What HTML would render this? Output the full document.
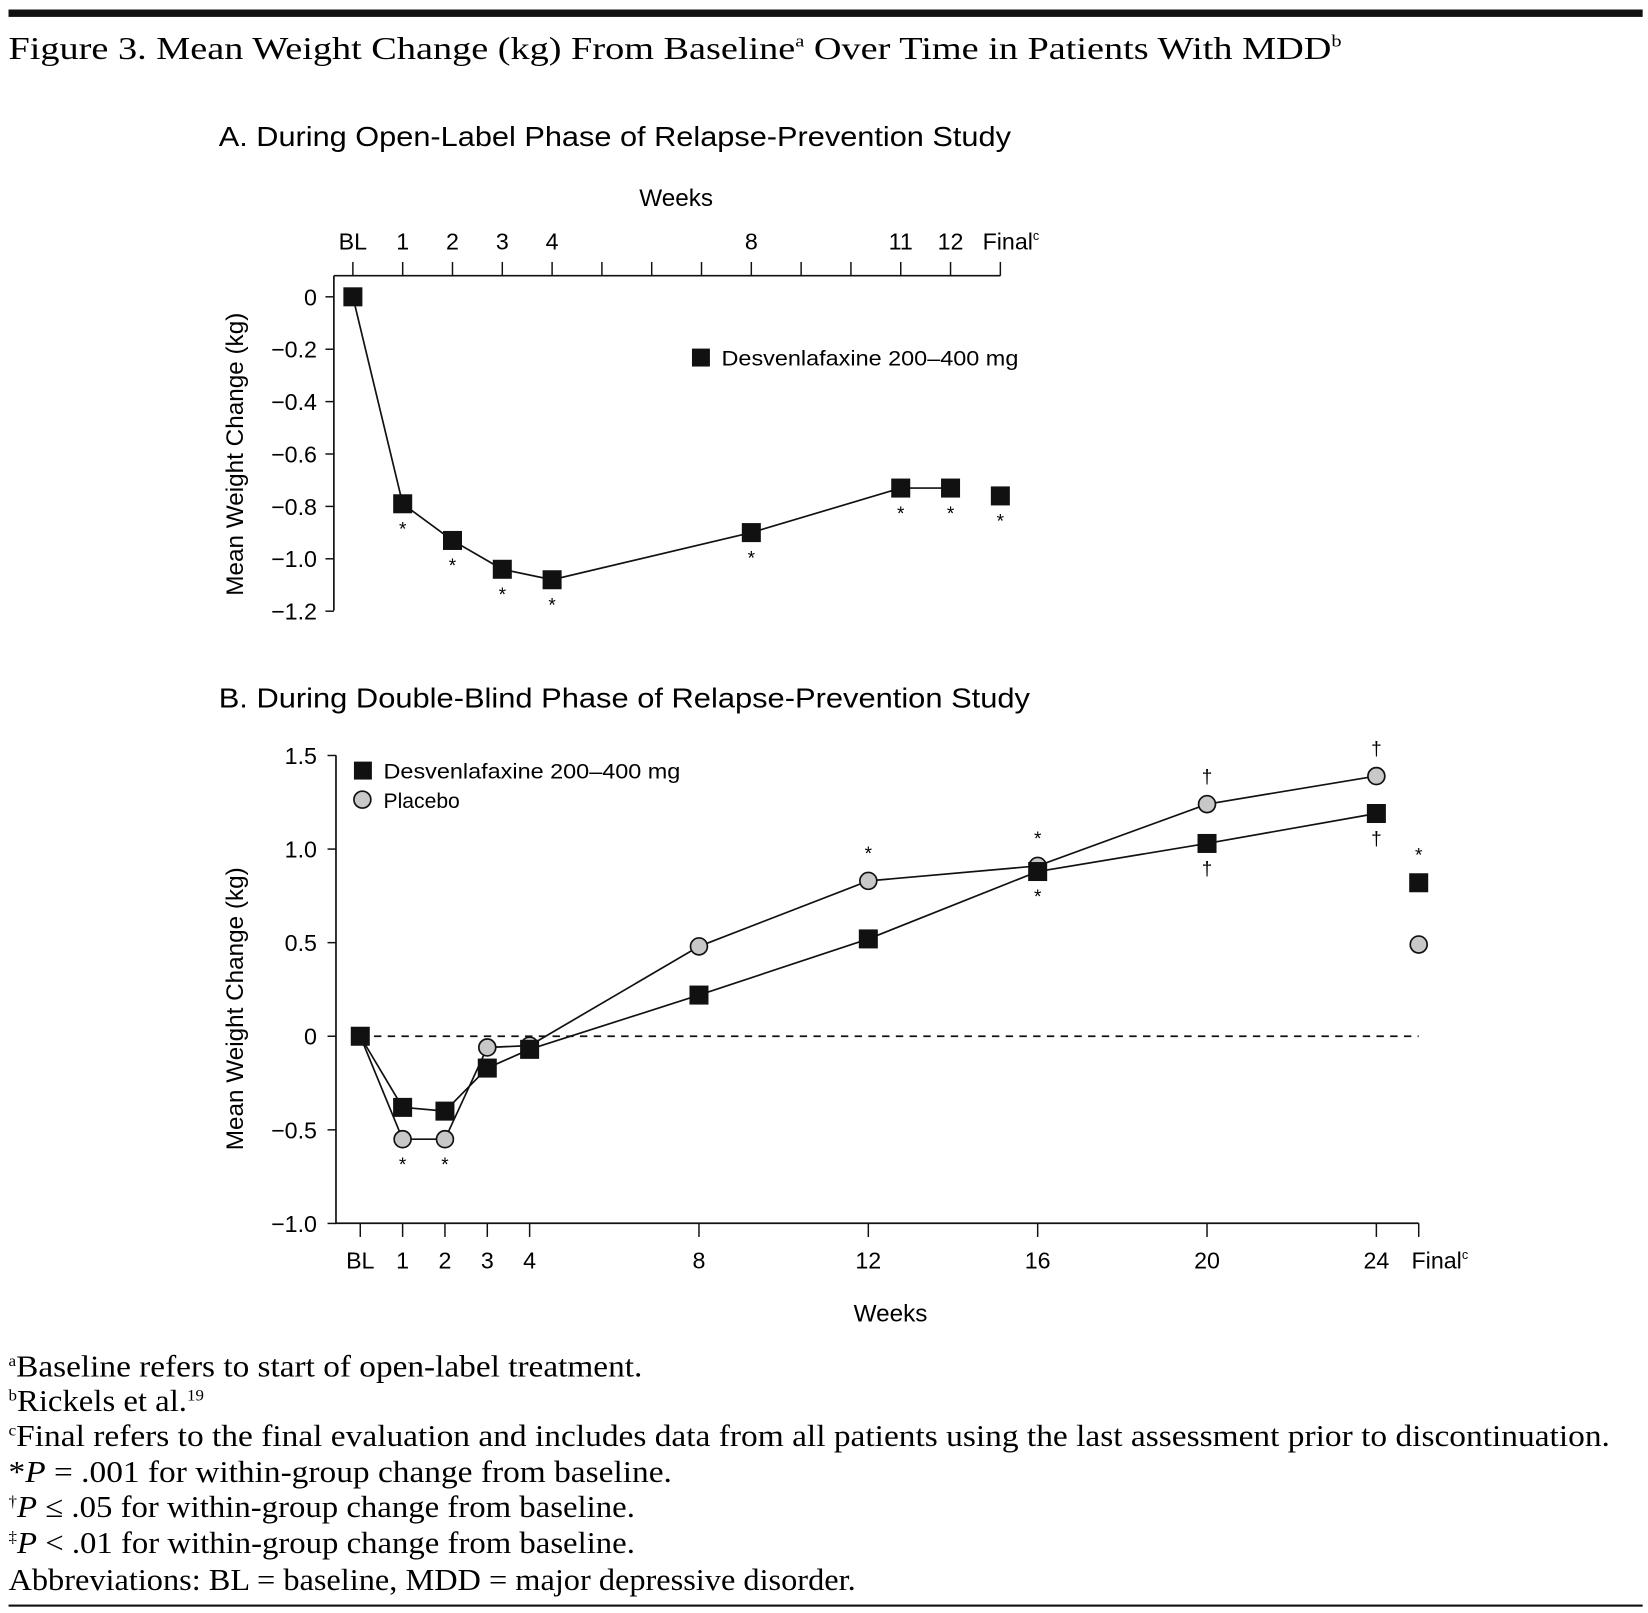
<!DOCTYPE html>
<html><head><meta charset="utf-8"><style>
html,body{margin:0;padding:0;background:#fff}
svg{display:block}
.serif{font-family:"Liberation Serif",serif}
.sans{font-family:"Liberation Sans",sans-serif}
</style></head><body>
<svg id="fig" width="1648" height="1613" viewBox="0 0 1560 1527" xmlns="http://www.w3.org/2000/svg">
<rect x="8" y="9" width="1547" height="7" fill="#111"/>
<text class="serif" x="8" y="56" font-size="30" textLength="1262" lengthAdjust="spacingAndGlyphs">Figure 3. Mean Weight Change (kg) From Baseline<tspan font-size="16" dy="-12">a</tspan><tspan dy="12"> Over Time in Patients With MDD</tspan><tspan font-size="16" dy="-12">b</tspan></text>
<text class="sans" x="207" y="138" font-size="26" textLength="750" lengthAdjust="spacingAndGlyphs">A. During Open-Label Phase of Relapse-Prevention Study</text>
<text class="sans" x="640" y="195" font-size="23" text-anchor="middle">Weeks</text>
<text class="sans" x="207" y="670" font-size="26" textLength="768" lengthAdjust="spacingAndGlyphs">B. During Double-Blind Phase of Relapse-Prevention Study</text>
<text class="sans" x="843" y="1251" font-size="23" text-anchor="middle">Weeks</text>
<text class="sans" transform="translate(230,430) rotate(-90)" font-size="23" text-anchor="middle">Mean Weight Change (kg)</text>
<text class="sans" transform="translate(230,955) rotate(-90)" font-size="23" text-anchor="middle">Mean Weight Change (kg)</text>
<g id="gA"></g>
<g id="gB"></g>
<g class="serif" font-size="29">
<text x="8" y="1303" textLength="600" lengthAdjust="spacingAndGlyphs"><tspan font-size="15" dy="-10">a</tspan><tspan dy="10">Baseline refers to start of open-label treatment.</tspan></text>
<text x="8" y="1336" textLength="185" lengthAdjust="spacingAndGlyphs"><tspan font-size="15" dy="-10">b</tspan><tspan dy="10">Rickels et al.</tspan><tspan font-size="15" dy="-10">19</tspan></text>
<text x="8" y="1369" textLength="1516" lengthAdjust="spacingAndGlyphs"><tspan font-size="15" dy="-10">c</tspan><tspan dy="10">Final refers to the final evaluation and includes data from all patients using the last assessment prior to discontinuation.</tspan></text>
<text x="8" y="1403" textLength="628" lengthAdjust="spacingAndGlyphs">*<tspan font-style="italic">P</tspan> = .001 for within-group change from baseline.</text>
<text x="8" y="1436" textLength="593" lengthAdjust="spacingAndGlyphs"><tspan font-size="15" dy="-10">†</tspan><tspan dy="10" font-style="italic">P</tspan> ≤ .05 for within-group change from baseline.</text>
<text x="8" y="1470" textLength="593" lengthAdjust="spacingAndGlyphs"><tspan font-size="15" dy="-10">‡</tspan><tspan dy="10" font-style="italic">P</tspan> &lt; .01 for within-group change from baseline.</text>
<text x="8" y="1505" textLength="802" lengthAdjust="spacingAndGlyphs">Abbreviations: BL = baseline, MDD = major depressive disorder.</text>
</g>
<rect x="8" y="1519" width="1547" height="2" fill="#111"/>
</svg>
<script>
// Panel A data
const aWeeks = [0,1,2,3,4,8,11,12,13];
const aLabels = ["BL","1","2","3","4","8","11","12","Final"];
const aValues = [0,-0.79,-0.93,-1.04,-1.08,-0.90,-0.73,-0.73,-0.76];
const aStars = ["","*","*","*","*","*","*","*","*"];
const aYTicks = [0,-0.2,-0.4,-0.6,-0.8,-1.0,-1.2];
// Panel B data
const bWeeks = [0,1,2,3,4,8,12,16,20,24,25];
const bLabels = ["BL","1","2","3","4","8","12","16","20","24","Final"];
const bDesv = [0,-0.38,-0.40,-0.17,-0.07,0.22,0.52,0.88,1.03,1.19,0.82];
const bPlac = [0,-0.55,-0.55,-0.06,-0.05,0.48,0.83,0.91,1.24,1.39,0.49];
const bDesvNote = ["","","","","","","","*","†","†","*"];
const bPlacNote = ["","*","*","","","","*","*","†","†",""];
const bYTicks = [1.5,1.0,0.5,0,-0.5,-1.0];

const NS="http://www.w3.org/2000/svg";
function mk(p,t,a,txt){const e=document.createElementNS(NS,t);for(const k in a)e.setAttribute(k,a[k]);if(txt!==undefined)e.textContent=txt;p.appendChild(e);return e;}
const fmt=v=>v===0?"0":(v<0?"\u2212":"")+Math.abs(v).toFixed(1);

// Panel A
const gA=document.getElementById('gA');
const axA=w=>334+w*47.15;
const ayA=v=>281-v/0.2*49.6;
let e=mk(gA,'path',{d:'M316,261H947M316,261V578',stroke:'#111','stroke-width':1.6,fill:'none'});


for(let w=0;w<=13;w++){e=mk(gA,'line',{x1:axA(w),x2:axA(w),y1:261,y2:248,stroke:'#111','stroke-width':1.4});

}
aWeeks.forEach((w,i)=>{e=mk(gA,'text',{x:axA(w)+(i==8?10:0),y:236,'font-size':22,'text-anchor':'middle','class':'sans'},aLabels[i]);


if(i==8){mk(e,'tspan',{'font-size':12,dy:-9},'c');}});
aYTicks.forEach(v=>{e=mk(gA,'line',{x1:308,x2:316,y1:ayA(v),y2:ayA(v),stroke:'#111','stroke-width':1.4});


e=mk(gA,'text',{x:300,y:ayA(v)+8,'font-size':22,'text-anchor':'end','class':'sans'},fmt(v));

});
let d=aWeeks.slice(0,8).map((w,i)=>(i?'L':'M')+axA(w)+','+ayA(aValues[i])).join('');
e=mk(gA,'path',{d:d,stroke:'#111','stroke-width':1.6,fill:'none'});


aWeeks.forEach((w,i)=>{e=mk(gA,'rect',{x:axA(w)-9,y:ayA(aValues[i])-9,width:18,height:18,fill:'#111'});


if(aStars[i]){e=mk(gA,'text',{x:axA(w),y:ayA(aValues[i])+30,'font-size':18,'text-anchor':'middle','class':'sans'},aStars[i]);

}});
e=mk(gA,'rect',{x:655,y:330,width:17,height:17,fill:'#111'});


e=mk(gA,'text',{x:683,y:346,'font-size':20,'class':'sans',textLength:281,lengthAdjust:'spacingAndGlyphs'},'Desvenlafaxine 200–400 mg');



// Panel B
const gB=document.getElementById('gB');
const bx=w=>341+w*40.08;
const by=v=>981-v/0.5*88.6;
e=mk(gB,'path',{d:'M318,715V1158H1343',stroke:'#111','stroke-width':1.6,fill:'none'});


e=mk(gB,'line',{x1:341,x2:1343,y1:by(0),y2:by(0),stroke:'#111','stroke-width':1.6,'stroke-dasharray':'7,6'});


bYTicks.forEach(v=>{e=mk(gB,'line',{x1:310,x2:318,y1:by(v),y2:by(v),stroke:'#111','stroke-width':1.4});


e=mk(gB,'text',{x:300,y:by(v)+8,'font-size':22,'text-anchor':'end','class':'sans'},fmt(v));

});
bWeeks.forEach((w,i)=>{e=mk(gB,'line',{x1:bx(w),x2:bx(w),y1:1158,y2:1171,stroke:'#111','stroke-width':1.4});


e=mk(gB,'text',{x:bx(w)+(i==10?20:0),y:1201,'font-size':22,'text-anchor':'middle','class':'sans'},bLabels[i]);


if(i==10){mk(e,'tspan',{'font-size':12,dy:-9},'c');}});
const line=(vals,name)=>{const dd=bWeeks.slice(0,10).map((w,i)=>(i?'L':'M')+bx(w)+','+by(vals[i])).join('');
const p=mk(gB,'path',{d:dd,stroke:'#111','stroke-width':1.6,fill:'none'});

};
line(bDesv,'desvenlafaxine-line');
line(bPlac,'placebo-line');
bWeeks.forEach((w,i)=>{if(i==0)return;
e=mk(gB,'circle',{cx:bx(w),cy:by(bPlac[i]),r:8,fill:'#c8c8c8',stroke:'#111','stroke-width':1.6});

});
bWeeks.forEach((w,i)=>{e=mk(gB,'rect',{x:bx(w)-9,y:by(bDesv[i])-9,width:18,height:18,fill:'#111'});

});
bWeeks.forEach((w,i)=>{
 const up=bDesv[i]>=bPlac[i];
 if(bDesvNote[i]){const yy=up?by(bDesv[i])-20:by(bDesv[i])+30;
  e=mk(gB,'text',{x:bx(w),y:yy,'font-size':18,'text-anchor':'middle','class':'sans'},bDesvNote[i]);
  
  }
 if(bPlacNote[i]){const yy=up?by(bPlac[i])+30:by(bPlac[i])-20;
  e=mk(gB,'text',{x:bx(w),y:yy,'font-size':18,'text-anchor':'middle','class':'sans'},bPlacNote[i]);
  
  }
});
e=mk(gB,'rect',{x:335,y:721,width:17,height:17,fill:'#111'});


e=mk(gB,'text',{x:363,y:737,'font-size':20,'class':'sans',textLength:281,lengthAdjust:'spacingAndGlyphs'},'Desvenlafaxine 200–400 mg');


e=mk(gB,'circle',{cx:343,cy:757,r:8,fill:'#c8c8c8',stroke:'#111','stroke-width':1.6});


e=mk(gB,'text',{x:363,y:765,'font-size':20,'class':'sans'},'Placebo');


</script>
</body></html>
